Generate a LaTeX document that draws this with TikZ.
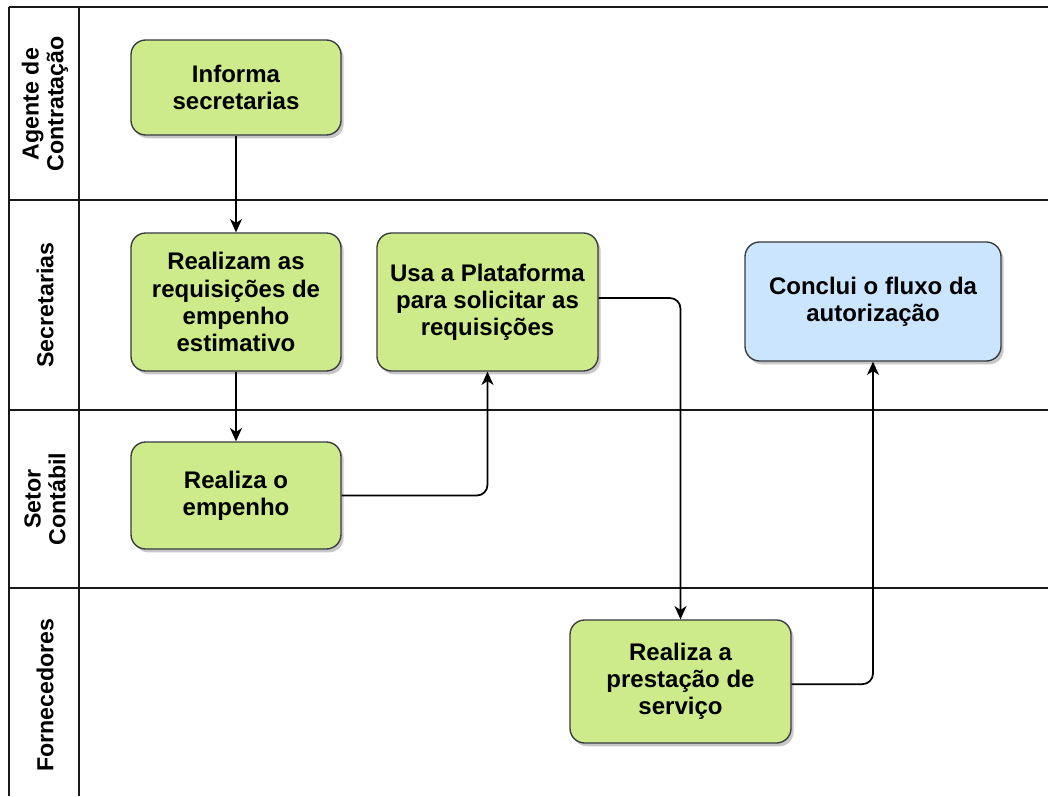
\documentclass[tikz,border=0pt]{standalone}
\usepackage{fontspec}
\setmainfont{Liberation Sans}
\usetikzlibrary{shadows,arrows.meta}
\definecolor{stepgreen}{HTML}{CDEB8B}
\definecolor{stepblue}{HTML}{CCE5FF}
\definecolor{stepedge}{HTML}{36393D}
\begin{document}
\begin{tikzpicture}[x=0.75pt,y=-0.75pt,
  lane/.style={line width=1.5pt,draw=black!90},
  lanelabel/.style={rotate=90,align=center,font=\bfseries\fontsize{17.4}{18.5}\selectfont},
  task/.style={rectangle,rounded corners=11pt,draw=stepedge,line width=1pt,
    align=center,font=\bfseries\fontsize{18}{20.3}\selectfont,inner sep=2pt,
    drop shadow={shadow xshift=2pt,shadow yshift=-2.5pt,opacity=0.22,fill=black}},
  greentask/.style={task,fill=stepgreen},
  bluetask/.style={task,fill=stepblue},
  flow/.style={line width=1.3pt,rounded corners=8pt,-{Stealth[length=10pt,width=9pt,inset=3pt]}}
]
\useasboundingbox (0,0) rectangle (1048,796);

% swimlane frame
\draw[lane] (9,7) -- (1048,7);
\draw[lane] (9,7) -- (9,796);
\draw[lane] (79,7) -- (79,796);
\draw[lane] (9,200) -- (1048,200);
\draw[lane] (9,410) -- (1048,410);
\draw[lane] (9,588) -- (1048,588);

% lane titles
\node[lanelabel] (l1) at (45,104) {Agente de\\Contratação};
\node[lanelabel] (l2) at (45,305) {Secretarias};
\node[lanelabel] (l3) at (45,499) {Setor\\Contábil};
\node[lanelabel] (l4) at (45,695) {Fornecedores};

% process steps
\node[greentask,minimum width=210*0.75pt,minimum height=95*0.75pt] (inf) at (236,87.5) {Informa\\secretarias};
\node[greentask,minimum width=210*0.75pt,minimum height=138*0.75pt] (req) at (236,302) {Realizam as\\requisições de\\empenho\\estimativo};
\node[greentask,minimum width=221*0.75pt,minimum height=138*0.75pt] (usa) at (487.5,302) {Usa a Plataforma\\para solicitar as\\requisições};
\node[bluetask,minimum width=256*0.75pt,minimum height=119*0.75pt] (fim) at (873,301.5) {Conclui o fluxo da\\autorização};
\node[greentask,minimum width=210*0.75pt,minimum height=107*0.75pt] (emp) at (236,495.5) {Realiza o\\empenho};
\node[greentask,minimum width=221*0.75pt,minimum height=123*0.75pt] (prest) at (680.5,681.5) {Realiza a\\prestação de\\serviço};

% connectors
\draw[flow] (inf.south) -- (req.north);
\draw[flow] (req.south) -- (emp.north);
\draw[flow] (emp.east) -| (usa.south);
\draw[flow] ([yshift=3pt]usa.east) -| (prest.north);
\draw[flow] ([yshift=-2pt]prest.east) -| (fim.south);
\end{tikzpicture}
\end{document}
